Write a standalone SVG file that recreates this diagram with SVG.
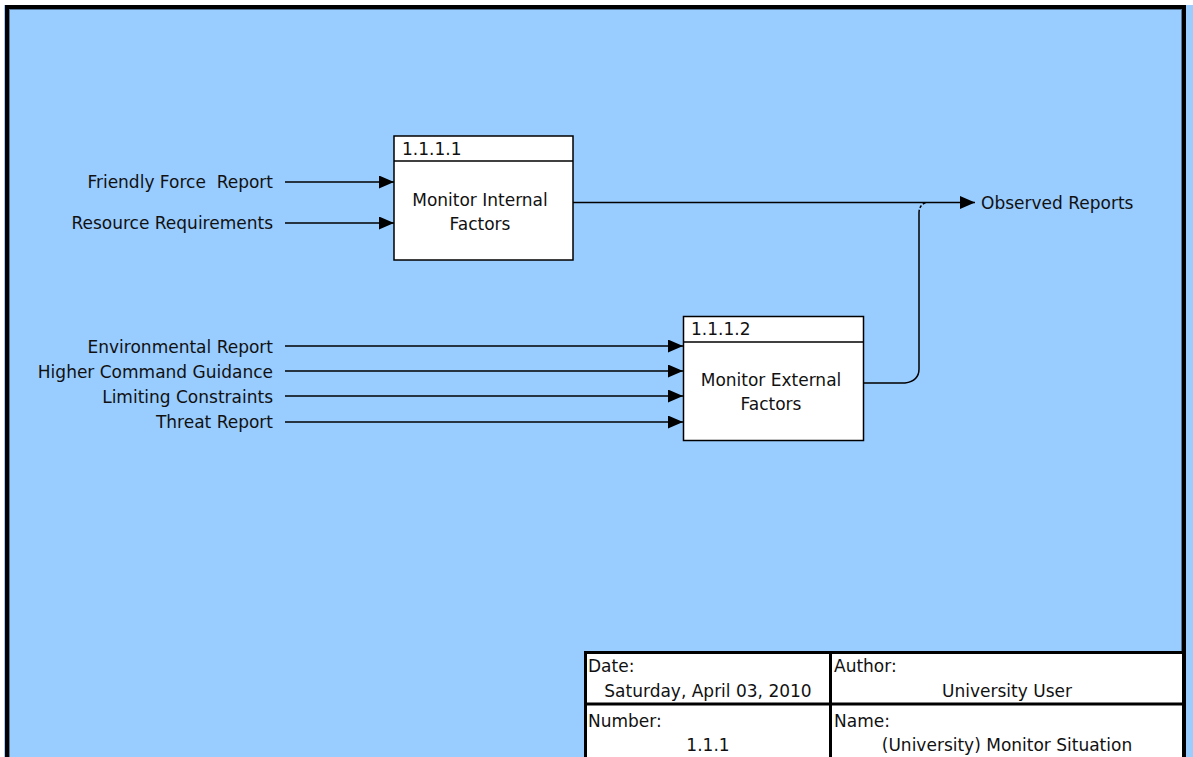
<svg xmlns="http://www.w3.org/2000/svg" width="1193" height="757" viewBox="0 0 1193 757">
<style>
text{font-family:"DejaVu Sans","Verdana",sans-serif;font-size:17px;fill:#111}
.box{fill:#fff;stroke:#000;stroke-width:1.5}
.ln{fill:none;stroke:#000;stroke-width:1.5}
.r{text-anchor:end}
.c{text-anchor:middle}
.tb{fill:none;stroke:#000;stroke-width:3}
</style>
<defs>
<marker id="ah" markerWidth="15" markerHeight="13" refX="15" refY="6.5" orient="auto" markerUnits="userSpaceOnUse">
<path d="M0,0 L15,6.5 L0,13 Z" fill="#000"/>
</marker>
</defs>
<rect x="0" y="0" width="1193" height="757" fill="#fff"/>
<rect x="4" y="5" width="1189" height="752" fill="#99ccff"/>
<g id="frame">
<rect x="7" y="7" width="1177" height="760" fill="none" stroke="#000" stroke-width="4"/>
<rect x="9.5" y="9.5" width="1172" height="760" fill="none" stroke="#557799" stroke-width="1"/>
</g>
<g id="connectors">
<line class="ln" x1="285" y1="182" x2="394" y2="182" marker-end="url(#ah)"/>
<line class="ln" x1="285" y1="223" x2="394" y2="223" marker-end="url(#ah)"/>
<line class="ln" x1="285" y1="346" x2="683" y2="346" marker-end="url(#ah)"/>
<line class="ln" x1="285" y1="371" x2="683" y2="371" marker-end="url(#ah)"/>
<line class="ln" x1="285" y1="396" x2="683" y2="396" marker-end="url(#ah)"/>
<line class="ln" x1="285" y1="422" x2="683" y2="422" marker-end="url(#ah)"/>
<line class="ln" x1="573" y1="202.5" x2="975" y2="202.5" marker-end="url(#ah)"/>
<path class="ln" d="M863,383 L905,383 Q919,381 919,369 L919,213"/>
<path class="ln" d="M919,213 Q919,205 926,202.5" stroke-dasharray="3,2"/>
</g>
<g id="labels">
<text class="r" x="273" y="188">Friendly Force&#160; Report</text>
<text class="r" x="273" y="229">Resource Requirements</text>
<text class="r" x="273" y="353">Environmental Report</text>
<text class="r" x="273" y="378">Higher Command Guidance</text>
<text class="r" x="273" y="403">Limiting Constraints</text>
<text class="r" x="273" y="428">Threat Report</text>
<text x="981" y="209">Observed Reports</text>
</g>
<g id="node-1111">
<rect class="box" x="394" y="136" width="179" height="124"/>
<line class="ln" x1="394" y1="161" x2="573" y2="161"/>
<text x="402" y="155">1.1.1.1</text>
<text class="c" x="480" y="206">Monitor Internal</text>
<text class="c" x="480" y="230">Factors</text>
</g>
<g id="node-1112">
<rect class="box" x="683.5" y="316.5" width="180" height="124"/>
<line class="ln" x1="683.5" y1="342" x2="863.5" y2="342"/>
<text x="691" y="335">1.1.1.2</text>
<text class="c" x="771" y="386">Monitor External</text>
<text class="c" x="771" y="410">Factors</text>
</g>
<g id="titleblock">
<rect x="585.5" y="652.5" width="598" height="120" fill="#fff"/>
<rect class="tb" x="585.5" y="652.5" width="598" height="120"/>
<line class="tb" x1="585" y1="704" x2="1183" y2="704"/>
<line class="tb" x1="830.5" y1="652" x2="830.5" y2="757"/>
<text x="588" y="672">Date:</text>
<text class="c" x="708" y="697">Saturday, April 03, 2010</text>
<text x="588" y="727">Number:</text>
<text class="c" x="708" y="751">1.1.1</text>
<text x="834" y="672">Author:</text>
<text class="c" x="1007" y="697">University User</text>
<text x="834" y="727">Name:</text>
<text class="c" x="1007" y="751">(University) Monitor Situation</text>
</g>
</svg>
